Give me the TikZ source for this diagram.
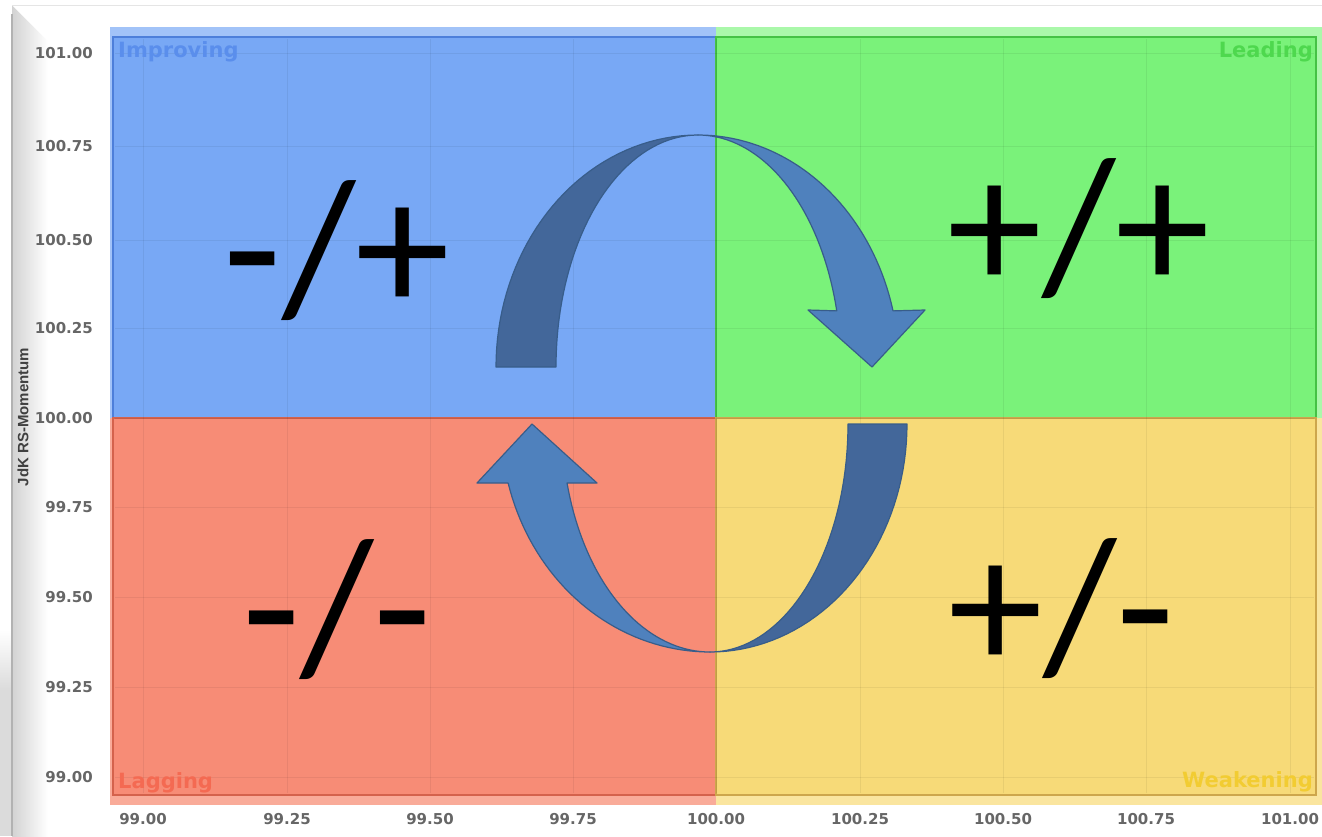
\documentclass[tikz,border=0pt]{standalone}
\usepackage{fontspec}
\setmainfont{DejaVu Sans}
\newfontfamily\signfont{Carlito}
\newfontfamily\titlefont{Liberation Sans}
\usetikzlibrary{calc}

\definecolor{quadblue}{HTML}{78A8F5}
\definecolor{quadgreen}{HTML}{7AF27A}
\definecolor{quadred}{HTML}{F78C76}
\definecolor{quadyellow}{HTML}{F7DA78}
\definecolor{paleblue}{HTML}{A2C3F8}
\definecolor{palegreen}{HTML}{AAF8AA}
\definecolor{palered}{HTML}{F9AB99}
\definecolor{paleyellow}{HTML}{FAE59F}
\definecolor{edgeblue}{HTML}{4D7FDA}
\definecolor{edgegreen}{HTML}{45C245}
\definecolor{edgered}{HTML}{D4624C}
\definecolor{edgeyellow}{HTML}{CDA64C}
\definecolor{txtblue}{HTML}{5A8EEC}
\definecolor{txtgreen}{HTML}{4ED84E}
\definecolor{txtred}{HTML}{F46A52}
\definecolor{txtyellow}{HTML}{F2CC32}
\definecolor{tickgray}{HTML}{666666}
\definecolor{arrowdark}{HTML}{43679A}
\definecolor{arrowlight}{HTML}{4F81BD}
\definecolor{arrowline}{HTML}{385D8A}

\begin{document}
\begin{tikzpicture}[x=1pt, y=-1pt,
    ticklabel/.style={text=tickgray, inner sep=0pt, font=\bfseries\fontsize{15}{15}\selectfont},
    quadlabel/.style={inner sep=0pt, font=\bfseries\fontsize{21}{21}\selectfont},
    sign/.style={inner sep=0pt, anchor=base, font=\signfont\fontsize{190}{190}\selectfont},
    gridline/.style={black, opacity=0.06, line width=1pt},
    darkband/.style={fill=arrowdark, draw=arrowline, line width=1.2pt, line join=round},
    lightband/.style={fill=arrowlight, draw=arrowline, line width=1.2pt, line join=round}]

    % 1. Page and frame
    \useasboundingbox (0,0) rectangle (1322,836);
    \fill[white] (0,0) rectangle (1322,836);
    \shade[left color=gray!35, right color=white] (12,5) rectangle (48,836);
    \fill[white] (12,5) -- (48,5) -- (48,41) -- cycle;
    \shade[top color=white, bottom color=gray!28] (0,630) rectangle (11,690);
    \fill[gray!28] (0,690) rectangle (11,836);
    \draw[gray!20] (12,5) -- (1322,5);
    \draw[gray!60, line width=1.5pt] (12,14) -- (12,836);

    % 2. Quadrants (pale band first, then the fields with their edges)
    \fill[paleblue] (110,27) rectangle (716,418);
    \fill[palegreen] (716,27) rectangle (1322,418);
    \fill[palered] (110,418) rectangle (716,805);
    \fill[paleyellow] (716,418) rectangle (1322,805);
    \draw[fill=quadblue, draw=edgeblue, line width=2pt] (113,37) rectangle (716,418);
    \draw[fill=quadgreen, draw=edgegreen, line width=2pt] (716,37) rectangle (1316,418);
    \draw[fill=quadred, draw=edgered, line width=2pt] (113,418) rectangle (716,795);
    \draw[fill=quadyellow, draw=edgeyellow, line width=2pt] (716,418) rectangle (1316,795);

    % 3. Grid and tick labels
    \foreach \gx/\lab [count=\i] in {143/99.00, 287/99.25, 430/99.50, 573/99.75, 716/100.00,
                                     860/100.25, 1003/100.50, 1146/100.75, 1290/101.00} {
        \draw[gridline] (\gx,39) -- (\gx,793);
        \node[ticklabel] (xt\i) at (\gx,819) {\lab};
    }
    \foreach \gy/\lab [count=\i] in {53/101.00, 146/100.75, 240/100.50, 328/100.25, 418/100.00,
                                     507/99.75, 597/99.50, 687/99.25, 777/99.00} {
        \draw[gridline] (115,\gy) -- (1314,\gy);
        \node[ticklabel, anchor=east] (yt\i) at (93,\gy) {\lab};
    }
    \node[rotate=90, text=black!75, inner sep=0pt, font=\titlefont\bfseries\fontsize{15}{15}\selectfont]
        (ytitle) at (23,417) {JdK RS-Momentum};

    % 4. Quadrant names
    \node[quadlabel, text=txtblue, anchor=base west] (improving) at (118,57) {Improving};
    \node[quadlabel, text=txtgreen, anchor=base east] (leading) at (1313,57) {Leading};
    \node[quadlabel, text=txtred, anchor=base west] (lagging) at (118,788) {Lagging};
    \node[quadlabel, text=txtyellow, anchor=base east] (weakening) at (1313,787) {Weakening};

    % 5. Signs
    \node[sign] (minusplus) at (337,312) {-/+};
    \node[sign] (plusplus) at (1079,290) {+/+};
    \node[sign] (minusminus) at (337,671) {-/-};
    \node[sign] (plusminus) at (1062,670) {+/-};

    % 6. Upper curved arrow (improving -> leading)
    \draw[darkband] plot[domain=180:90, samples=40] ({698+202*cos(\x)}, {367-232*sin(\x)})
        -- plot[domain=90:180, samples=40] ({698+142*cos(\x)}, {367-232*sin(\x)}) -- cycle;
    \draw[lightband] plot[domain=90:14, samples=40] ({698+201*cos(\x)}, {367-232*sin(\x)})
        -- (925,310) -- (872,367) -- (808,310)
        -- plot[domain=14:90, samples=40] ({698+143*cos(\x)}, {367-232*sin(\x)}) -- cycle;

    % 7. Lower curved arrow (weakening -> lagging -> improving)
    \draw[darkband] plot[domain=0:-90, samples=40] ({710+197*cos(\x)}, {424-228*sin(\x)})
        -- plot[domain=-90:0, samples=40] ({710+138*cos(\x)}, {424-228*sin(\x)}) -- cycle;
    \draw[lightband] plot[domain=-90:-165, samples=40] ({710+209*cos(\x)}, {424-228*sin(\x)})
        -- (477,483) -- (532,424) -- (597,483)
        -- plot[domain=-165:-90, samples=40] ({710+148*cos(\x)}, {424-228*sin(\x)}) -- cycle;

\end{tikzpicture}
\end{document}
